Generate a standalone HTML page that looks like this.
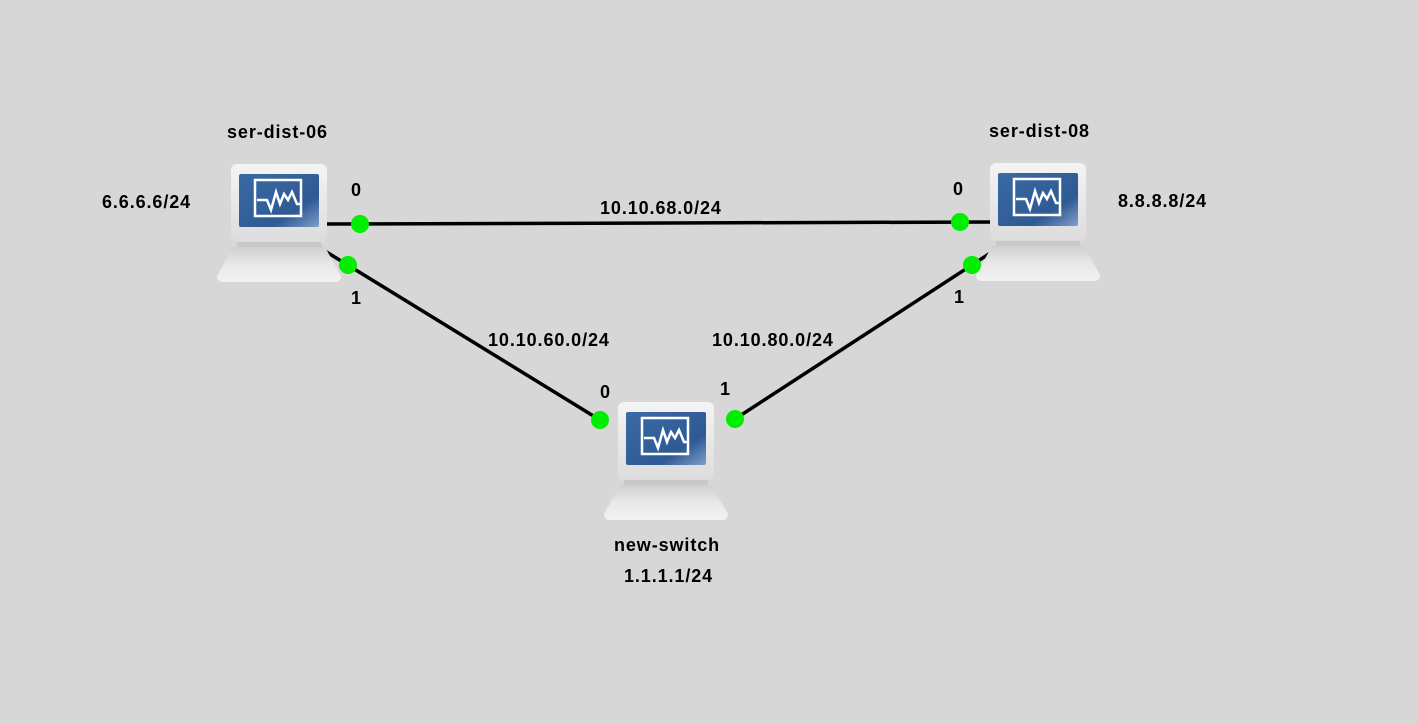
<!DOCTYPE html>
<html><head><meta charset="utf-8"><style>
html,body{margin:0;padding:0;background:#d7d7d7;}
svg{display:block;}
text{font-family:"Liberation Sans",Arial,sans-serif;font-weight:bold;font-size:18px;letter-spacing:0.9px;fill:#000;}
</style></head><body>
<svg width="1418" height="724" viewBox="0 0 1418 724" xmlns="http://www.w3.org/2000/svg">
<defs>
<linearGradient id="mon" x1="0" y1="0" x2="0" y2="1">
<stop offset="0" stop-color="#f4f4f4"/><stop offset="1" stop-color="#dcdcdc"/></linearGradient>
<linearGradient id="scr" x1="0" y1="0" x2="1" y2="1">
<stop offset="0" stop-color="#3a6aa6"/><stop offset="0.7" stop-color="#2f5a94"/><stop offset="1" stop-color="#7f9fc8"/></linearGradient>
<linearGradient id="base" x1="0" y1="0" x2="0" y2="1">
<stop offset="0" stop-color="#d0d0d0"/><stop offset="0.5" stop-color="#e8e8e8"/><stop offset="1" stop-color="#f2f2f2"/></linearGradient>
<g id="pc">
<rect x="0" y="0" width="96" height="78" rx="6" fill="url(#mon)"/>
<rect x="8" y="10" width="80" height="53" rx="2" fill="url(#scr)"/>
<rect x="24" y="16" width="46" height="36" fill="none" stroke="#fff" stroke-width="2.5"/>
<polyline points="26,36 36,36 40,46 45,28 49,40 53,30 57,36 61,28 66,40 70,40" fill="none" stroke="#fff" stroke-width="2.5"/>
<rect x="6" y="78" width="84" height="5" fill="#c8c8c8"/>
<path d="M2,83 L94,83 L110,112 Q110,118 104,118 L-8,118 Q-14,118 -14,112 Z" fill="url(#base)"/>
</g>
</defs>
<g stroke="#000" stroke-width="3.5">
<line x1="320" y1="224" x2="995" y2="222"/>
<line x1="320" y1="248" x2="600" y2="420"/>
<line x1="735" y1="419" x2="995" y2="250"/>
</g>
<use href="#pc" x="231" y="164"/>
<use href="#pc" x="990" y="163"/>
<use href="#pc" x="618" y="402"/>
<g fill="#00ee00">
<circle cx="360" cy="224" r="9"/>
<circle cx="960" cy="222" r="9"/>
<circle cx="348" cy="265" r="9"/>
<circle cx="972" cy="265" r="9"/>
<circle cx="600" cy="420" r="9"/>
<circle cx="735" cy="419" r="9"/>
</g>
<text x="227" y="138">ser-dist-06</text>
<text x="989" y="137">ser-dist-08</text>
<text x="614" y="551">new-switch</text>
<text x="624" y="582">1.1.1.1/24</text>
<text x="102" y="208">6.6.6.6/24</text>
<text x="1118" y="207">8.8.8.8/24</text>
<text x="600" y="214">10.10.68.0/24</text>
<text x="488" y="346">10.10.60.0/24</text>
<text x="712" y="346">10.10.80.0/24</text>
<text x="351" y="196">0</text>
<text x="953" y="195">0</text>
<text x="351" y="304">1</text>
<text x="954" y="303">1</text>
<text x="600" y="398">0</text>
<text x="720" y="395">1</text>
</svg>
</body></html>
